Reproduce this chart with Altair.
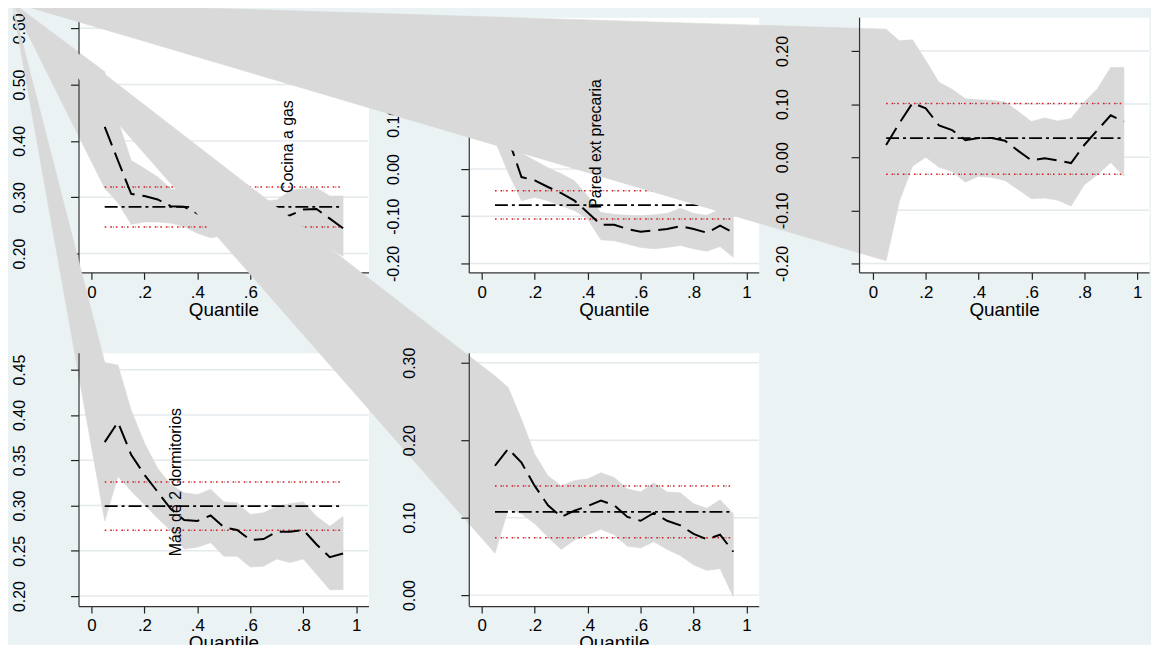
import altair as alt
import pandas as pd

# ---------------- data ----------------
quantiles = [0.05, 0.10, 0.15, 0.20, 0.25, 0.30, 0.35, 0.40, 0.45, 0.50,
             0.55, 0.60, 0.65, 0.70, 0.75, 0.80, 0.85, 0.90, 0.95]

panel_labels = ["Cocina a gas", "Pared ext precaria", "", "Más de 2 dormitorios", ""]
label_q = [0.742, 0.431, None, 0.319, None]
label_val = [0.3076, -0.0842, None, 0.2439, None]

# quantile-regression coefficient per quantile
coef_1 = [0.425, 0.365, 0.306, 0.302, 0.296, 0.284, 0.283, 0.271, 0.266, 0.262,
          0.258, 0.256, 0.258, 0.262, 0.268, 0.278, 0.279, 0.262, 0.245]
coef_2 = [0.120, 0.065, -0.017, -0.024, -0.038, -0.051, -0.067, -0.092, -0.118, -0.118,
          -0.127, -0.133, -0.130, -0.127, -0.121, -0.127, -0.135, -0.120, -0.135]
coef_3 = [0.023, 0.064, 0.102, 0.092, 0.060, 0.051, 0.032, 0.036, 0.036, 0.031,
          0.012, -0.006, -0.002, -0.006, -0.011, 0.023, 0.051, 0.079, 0.067]
coef_4 = [0.370, 0.392, 0.356, 0.334, 0.315, 0.296, 0.284, 0.283, 0.289, 0.276,
          0.273, 0.262, 0.263, 0.271, 0.271, 0.273, 0.257, 0.243, 0.247]
coef_5 = [0.167, 0.189, 0.171, 0.141, 0.116, 0.101, 0.109, 0.115, 0.122, 0.116,
          0.101, 0.096, 0.106, 0.096, 0.090, 0.079, 0.072, 0.078, 0.056]

# upper / lower confidence bounds of the quantile coefficients
upper_1 = [0.523, 0.436, 0.365, 0.351, 0.336, 0.315, 0.310, 0.300, 0.295, 0.290,
           0.290, 0.289, 0.293, 0.295, 0.312, 0.315, 0.316, 0.302, 0.302]
lower_1 = [0.316, 0.290, 0.252, 0.256, 0.256, 0.254, 0.248, 0.236, 0.228, 0.232,
           0.228, 0.225, 0.228, 0.232, 0.228, 0.232, 0.225, 0.210, 0.195]
upper_2 = [0.180, 0.140, 0.034, 0.018, 0.003, -0.010, -0.025, -0.057, -0.092, -0.096,
           -0.098, -0.099, -0.097, -0.094, -0.083, -0.094, -0.098, -0.085, -0.090]
lower_2 = [0.060, -0.008, -0.067, -0.060, -0.067, -0.078, -0.088, -0.106, -0.150, -0.152,
           -0.159, -0.166, -0.169, -0.166, -0.162, -0.169, -0.174, -0.164, -0.187]
upper_3 = [0.241, 0.219, 0.221, 0.182, 0.141, 0.128, 0.110, 0.108, 0.107, 0.104,
           0.086, 0.067, 0.074, 0.068, 0.073, 0.104, 0.129, 0.169, 0.169]
lower_3 = [-0.195, -0.083, -0.017, 0.000, -0.019, -0.027, -0.047, -0.036, -0.038, -0.044,
           -0.061, -0.078, -0.077, -0.081, -0.092, -0.052, -0.033, -0.010, -0.036]
upper_4 = [0.458, 0.455, 0.405, 0.369, 0.341, 0.323, 0.314, 0.312, 0.318, 0.304,
           0.303, 0.290, 0.292, 0.299, 0.302, 0.304, 0.288, 0.277, 0.288]
lower_4 = [0.283, 0.332, 0.316, 0.301, 0.286, 0.272, 0.252, 0.254, 0.259, 0.244,
           0.244, 0.232, 0.233, 0.241, 0.237, 0.241, 0.224, 0.207, 0.207]
upper_5 = [0.283, 0.268, 0.227, 0.182, 0.154, 0.141, 0.148, 0.150, 0.158, 0.152,
           0.137, 0.133, 0.145, 0.133, 0.132, 0.118, 0.112, 0.123, 0.105]
lower_5 = [0.054, 0.111, 0.105, 0.092, 0.075, 0.059, 0.071, 0.078, 0.085, 0.078,
           0.063, 0.061, 0.069, 0.059, 0.051, 0.039, 0.032, 0.034, -0.002]

# OLS coefficient and its confidence interval
ols_coef = [0.283, -0.0765, 0.036, 0.2993, 0.1076]
ols_low = [0.247, -0.106, -0.032, 0.2726, 0.074]
ols_high = [0.318, -0.046, 0.101, 0.326, 0.141]

# the stray vertex every band polygon runs to (the glitch toward the corner)
stray_q = [-0.300, -1.774, -3.259, -0.300, -1.774]
stray_val = [0.646, 0.354, 0.292, 0.856, 0.765]

x_ticks = [0, 0.2, 0.4, 0.6, 0.8, 1.0]
y_ticks = [
    [0.20, 0.30, 0.40, 0.50, 0.60],
    [-0.20, -0.10, 0.00, 0.10, 0.20],
    [-0.20, -0.10, 0.00, 0.10, 0.20],
    [0.20, 0.25, 0.30, 0.35, 0.40, 0.45],
    [0.00, 0.10, 0.20, 0.30],
]

coefs = [coef_1, coef_2, coef_3, coef_4, coef_5]
uppers = [upper_1, upper_2, upper_3, upper_4, upper_5]
lowers = [lower_1, lower_2, lower_3, lower_4, lower_5]

# ---------------- layout / style ----------------
FONT = "Liberation Sans"
BAND = "#D9D9D9"
GRID = "#E4EAEC"
BG = "#EAF2F3"

W = [292, 292, 292, 292, 292]
H = [257, 257, 257, 255, 255]
VIEW_X = [79, 472, 865, 79, 472]
XDOM = [[-0.049, 1.046], [-0.049, 1.046], [-0.0525, 1.045], [-0.049, 1.046], [-0.049, 1.046]]
YDOM = [[0.1665, 0.6198], [-0.219, 0.322], [-0.2168, 0.2636], [0.189, 0.4686], [-0.0141, 0.3128]]
YLAB_PAD = [46, 63, 64, 46, 47]

X_LABEL_EXPR = ("datum.value == 0 ? '0' : (datum.value == 1 ? '1' : "
                "substring(format(datum.value, '.1f'), 1))")
Y_LABEL_EXPR = "replace(format(datum.value, '.2f'), '\u2212', '-')"


def x_axis():
    return alt.Axis(values=x_ticks, labelExpr=X_LABEL_EXPR, title="Quantile", grid=False,
                    zindex=1, domainColor="#333333", domainWidth=1.2, tickColor="#222222",
                    tickSize=7, tickWidth=1.2, labelFont=FONT, labelFontSize=17,
                    labelColor="#000000", labelPadding=5, titleFont=FONT, titleFontSize=19,
                    titleFontWeight="normal", titleColor="#000000", titlePadding=0,
                    labelFlush=False, labelOverlap=False)


def y_axis(i):
    return alt.Axis(values=y_ticks[i], labelExpr=Y_LABEL_EXPR, title=None, grid=False,
                    zindex=1, domainColor="#333333", domainWidth=1.2, tickColor="#222222",
                    tickSize=8, tickWidth=1.2, labelFont=FONT, labelFontSize=16,
                    labelColor="#000000", labelAngle=270, labelAlign="center",
                    labelBaseline="alphabetic", labelPadding=YLAB_PAD[i],
                    labelFlush=False, labelOverlap=False)


def xs(i):
    return alt.Scale(domain=XDOM[i], nice=False, zero=False)


def ys(i):
    return alt.Scale(domain=YDOM[i], nice=False, zero=False)


def band_frame(i):
    rows = [{"idx": 0, "q": stray_q[i], "v": stray_val[i]}]
    for k, (qq, u) in enumerate(zip(quantiles, uppers[i])):
        rows.append({"idx": 1 + k, "q": qq, "v": u})
    n = len(quantiles)
    for k, (qq, lo) in enumerate(zip(quantiles[::-1], lowers[i][::-1])):
        rows.append({"idx": 1 + n + k, "q": qq, "v": lo})
    return pd.DataFrame(rows)


def label_layer(i, xscale, yscale, axis_x, axis_y):
    df = pd.DataFrame({"q": [label_q[i]], "v": [label_val[i]], "t": [panel_labels[i]]})
    return alt.Chart(df).mark_text(angle=270, align="left", baseline="middle", font=FONT,
                                   fontSize=16, color="#000000").encode(
        x=alt.X("q:Q", scale=xscale, axis=axis_x),
        y=alt.Y("v:Q", scale=yscale, axis=axis_y),
        text="t:N",
    )


def panel_layers(i):
    X = lambda f: alt.X(f + ":Q", scale=xs(i), axis=x_axis())
    Y = lambda f: alt.Y(f + ":Q", scale=ys(i), axis=y_axis(i))

    grid = alt.Chart(pd.DataFrame({"v": y_ticks[i]})).mark_rule(
        color=GRID, strokeWidth=1.5).encode(y=Y("v"))

    band = alt.Chart(band_frame(i)).mark_line(
        fill=BAND, stroke=BAND, strokeWidth=0.6, interpolate="linear-closed").encode(
        x=X("q"), y=Y("v"), order="idx:Q")

    ols_df = pd.DataFrame({"q0": [quantiles[0]], "q1": [quantiles[-1]],
                           "b": [ols_coef[i]], "lo": [ols_low[i]], "hi": [ols_high[i]]})
    layers = [grid, band]
    for col in ["hi", "lo"]:
        layers.append(alt.Chart(ols_df).mark_rule(
            color="#E3141B", strokeWidth=1.5, strokeDash=[1.6, 4]).encode(
            x=X("q0"), x2="q1:Q", y=Y(col)))
        layers.append(alt.Chart(ols_df).mark_rule(
            color="#555555", strokeWidth=1.1, strokeDash=[1, 10.2], strokeDashOffset=3).encode(
            x=X("q0"), x2="q1:Q", y=Y(col)))
    layers.append(alt.Chart(ols_df).mark_rule(
        color="#000000", strokeWidth=1.8, strokeDash=[13, 4, 3, 4]).encode(
        x=X("q0"), x2="q1:Q", y=Y("b")))

    coef_df = pd.DataFrame({"q": quantiles, "v": coefs[i]})
    layers.append(alt.Chart(coef_df).mark_line(
        color="#000000", strokeWidth=2, strokeDash=[20, 8]).encode(x=X("q"), y=Y("v")))

    if panel_labels[i] and i != 1:
        layers.append(label_layer(i, xs(i), ys(i), x_axis(), y_axis(i)))
    return layers


p1 = alt.layer(*panel_layers(0)).properties(width=W[0], height=H[0])
p2 = alt.layer(*panel_layers(1)).properties(width=W[1], height=H[1])

# panel 3, plus the label of panel 2 (drawn last so it sits above panel 3's band)
p3_inner = alt.layer(*panel_layers(2))
off = VIEW_X[1] - VIEW_X[2]
lab2 = label_layer(
    1,
    alt.Scale(domain=XDOM[1], range=[off, off + W[1]], nice=False, zero=False),
    alt.Scale(domain=YDOM[1], range=[H[1], 0], nice=False, zero=False),
    None, None)
p3 = alt.layer(p3_inner, lab2).resolve_scale(x="independent", y="independent").properties(
    width=W[2], height=H[2])

p4 = alt.layer(*panel_layers(3)).properties(width=W[3], height=H[3])
p5 = alt.layer(*panel_layers(4)).properties(width=W[4], height=H[4])

chart = alt.concat(
    p1, p2, p3, p4, p5, columns=3,
    spacing=alt.RowColnumber(row=81, column=101), bounds="flush",
).properties(
    autosize=alt.AutoSizeParams(type="none"),
    padding={"left": 71, "top": 7, "right": 1080, "bottom": 630},
    background=BG,
).configure_view(fill="white", stroke="transparent")

chart.save("out.html", embed_options={"renderer": "svg", "actions": False})
